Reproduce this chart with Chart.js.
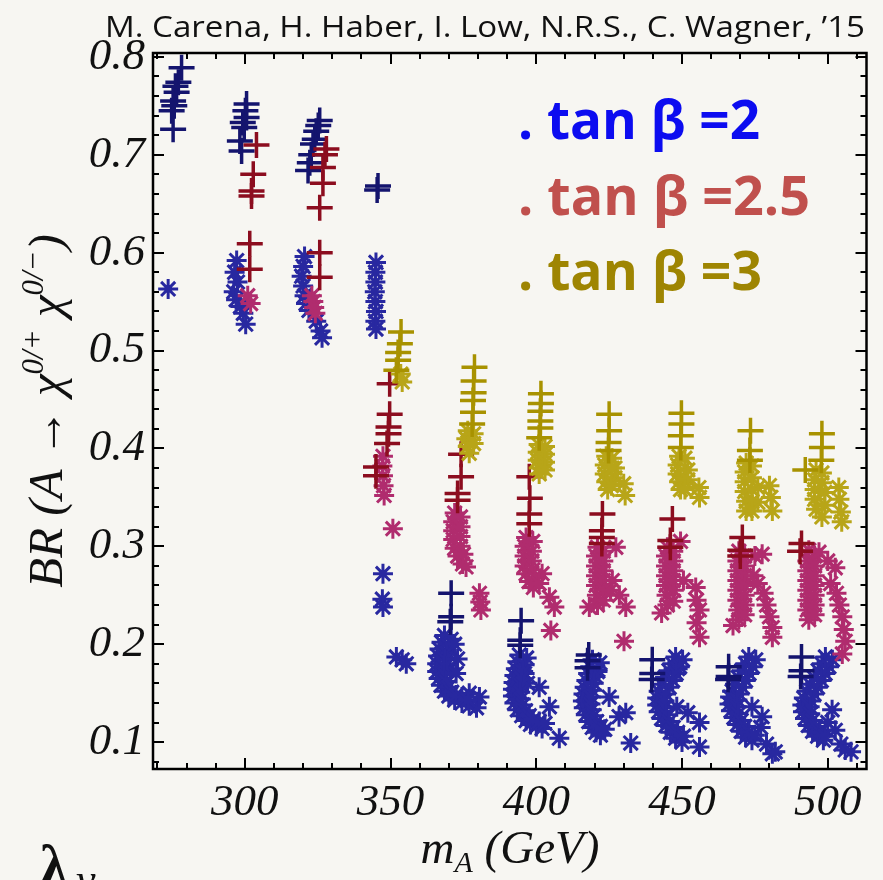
<!DOCTYPE html>
<html lang="en">
<head>
<meta charset="UTF-8">
<title>BR(A → χχ) vs m_A</title>
<style>
  body { margin: 0; background: #f7f6f2; }
  #wrap { width: 883px; height: 880px; }
</style>
<script src="https://cdn.jsdelivr.net/npm/chart.js@4.4.0/dist/chart.umd.min.js"></script>
</head>
<body>
<div id="wrap"><canvas id="brChart" width="883" height="880"></canvas></div>
<script>
// axis ticks
const xTicks = [300, 350, 400, 450, 500];
const yTicks = [0.1, 0.2, 0.3, 0.4, 0.5, 0.6, 0.7, 0.8];

// legend entries, one per tan beta
const seriesNames = ['tan β =2', 'tan β =2.5', 'tan β =3'];

// [m_A (GeV), BR] scan points, "+" and "*" markers per tan beta
const blueCross = [
  [278.3,0.789],[277.2,0.774],[276.6,0.764],[276.2,0.770],[275.4,0.755],[275.8,0.750],[274.9,0.745],[275.4,0.726],
  [300.6,0.752],[300.2,0.745],[300.6,0.738],[299.3,0.733],[299.8,0.728],[298.3,0.714],[298.9,0.704],
  [325.7,0.735],[325.2,0.730],[324.5,0.724],[324.0,0.716],[323.4,0.711],[322.8,0.700],[322.3,0.692],[321.7,0.684],
  [345.7,0.668],[345.4,0.664],
  [370.8,0.252],[370.8,0.228],[370.5,0.223],
  [394.8,0.224],[394.5,0.204],[394.5,0.199],
  [418.0,0.189],[417.6,0.183],[417.6,0.176],
  [439.8,0.184],[439.8,0.170],[439.6,0.164],
  [466.0,0.177],[466.0,0.167],[465.8,0.164],
  [491.0,0.187],[491.0,0.173],[490.7,0.167]
];
const blueStar = [
  [273.7,0.563],
  [297.2,0.592],[296.5,0.580],[297.5,0.570],[296.2,0.560],[297.0,0.552],[298.5,0.545],[299.5,0.538],[300.3,0.527],
  [320.5,0.596],[320.0,0.586],[319.5,0.576],[320.0,0.566],[320.5,0.556],[321.0,0.548],[322.0,0.541],[324.5,0.530],[326.0,0.520],[326.5,0.513],
  [345.0,0.590],[344.8,0.580],[344.8,0.570],[344.6,0.560],[344.8,0.550],[345.0,0.540],[344.8,0.530],[345.0,0.522],
  [347.4,0.272],[347.2,0.246],[347.4,0.238],[352.0,0.187],[354.0,0.184],[355.4,0.180],
  // m_A = 375
  [368.5,0.209],[367.5,0.202],[366.8,0.195],[366.3,0.188],[366.0,0.180],[366.0,0.172],[366.5,0.165],[367.3,0.158],[368.5,0.152],
  [370.0,0.147],[372.0,0.143],[374.5,0.140],[377.0,0.137],[379.5,0.135],[370.0,0.190],[370.5,0.175],[377.0,0.150],[380.5,0.146],
  [370.8,0.205],[370.0,0.198],[369.3,0.191],[368.8,0.184],[368.5,0.177],[368.5,0.169],[369.0,0.162],[369.8,0.156],[371.0,0.151],
  [372.5,0.148],[374.5,0.146],[376.5,0.143],[372.0,0.200],[373.0,0.185],[372.5,0.170],
  // m_A = 400
  [394.2,0.189],[393.5,0.182],[393.0,0.175],[392.5,0.168],[392.2,0.161],[392.0,0.154],[392.0,0.147],[392.5,0.140],[393.5,0.133],
  [395.0,0.127],[396.5,0.122],[398.0,0.118],[400.0,0.116],[402.0,0.114],[396.0,0.170],[397.0,0.160],[401.0,0.156],[404.5,0.136],[407.9,0.104],
  [396.7,0.186],[396.0,0.179],[395.5,0.172],[395.0,0.165],[394.7,0.158],[394.5,0.151],[394.7,0.144],[395.3,0.138],[396.3,0.132],
  [397.6,0.127],[399.0,0.123],[401.0,0.121],[403.0,0.119],
  // m_A = 425
  [419.3,0.184],[418.5,0.177],[417.8,0.170],[417.2,0.163],[416.6,0.156],[416.2,0.149],[416.0,0.142],[416.3,0.135],[417.0,0.128],
  [418.0,0.121],[419.2,0.115],[420.5,0.110],[422.0,0.107],[421.0,0.172],[425.0,0.146],[428.4,0.126],[430.7,0.130],[432.4,0.099],
  [421.8,0.181],[421.0,0.174],[420.3,0.167],[419.7,0.160],[419.1,0.153],[418.7,0.146],[418.6,0.139],[419.0,0.133],[419.7,0.127],
  [420.7,0.121],[422.0,0.116],[423.5,0.113],
  // m_A = 450
  [447.8,0.187],[446.8,0.180],[445.5,0.173],[444.2,0.166],[443.0,0.159],[442.0,0.152],[441.5,0.145],[441.5,0.138],[442.0,0.131],
  [443.0,0.124],[444.5,0.117],[446.0,0.110],[447.8,0.104],[450.0,0.100],[448.5,0.175],[448.2,0.136],[452.0,0.130],[456.0,0.120],[456.0,0.095],
  [450.2,0.184],[449.2,0.177],[448.0,0.170],[446.8,0.163],[445.6,0.156],[444.5,0.149],[444.0,0.142],[444.0,0.135],[444.6,0.128],
  [445.6,0.121],[447.0,0.115],[448.5,0.110],[450.5,0.106],
  // m_A = 475
  [472.9,0.187],[471.8,0.180],[470.5,0.173],[469.3,0.166],[468.2,0.159],[467.2,0.152],[466.5,0.146],[466.3,0.139],[466.8,0.132],
  [467.8,0.125],[469.0,0.118],[470.3,0.111],[471.8,0.105],[474.0,0.102],[474.0,0.136],[477.5,0.126],[477.0,0.115],[479.0,0.098],[481.0,0.088],[482.0,0.090],
  [475.3,0.184],[474.2,0.177],[473.0,0.170],[471.8,0.163],[470.7,0.156],[469.7,0.149],[469.0,0.143],[468.8,0.136],[469.3,0.129],
  [470.3,0.122],[471.5,0.116],[473.0,0.110],[475.0,0.107],
  // m_A = 500
  [499.2,0.187],[498.0,0.180],[496.7,0.173],[495.3,0.166],[494.0,0.159],[492.8,0.152],[491.8,0.145],[491.3,0.138],[491.5,0.131],
  [492.2,0.124],[493.3,0.117],[494.8,0.111],[496.5,0.106],[498.5,0.102],[501.5,0.133],[502.6,0.112],[500.0,0.120],[504.5,0.098],[506.0,0.092],[508.0,0.090],
  [501.6,0.184],[500.4,0.177],[499.1,0.170],[497.8,0.163],[496.5,0.156],[495.3,0.149],[494.3,0.142],[493.8,0.136],[494.0,0.129],
  [494.7,0.122],[495.8,0.116],[497.3,0.110],[499.0,0.106]
];
const redCross = [
  [304.0,0.710],[302.9,0.680],[302.3,0.663],[302.3,0.658],[301.7,0.609],[301.7,0.583],
  [328.0,0.706],[327.5,0.700],[326.8,0.687],[326.8,0.671],[325.7,0.646],[325.7,0.600],[325.7,0.575],
  [349.7,0.466],[349.7,0.435],[349.3,0.422],[349.3,0.415],[348.8,0.405],[345.0,0.381],[345.0,0.372],
  [374.2,0.394],[374.2,0.371],[373.0,0.354],[373.0,0.347],
  [397.6,0.371],[397.8,0.349],[397.6,0.333],[397.6,0.323],
  [422.7,0.333],[422.5,0.316],[422.5,0.309],[422.5,0.303],
  [446.7,0.328],[446.0,0.306],[446.0,0.299],
  [470.7,0.309],[470.0,0.296],[470.0,0.290],
  [491.0,0.303],[490.5,0.295]
];
const redStar = [
  [302.0,0.548],[301.0,0.556],
  [323.0,0.556],[323.5,0.550],[323.8,0.544],[324.2,0.538],
  [347.4,0.392],[347.2,0.382],[347.4,0.372],[347.6,0.362],[347.8,0.352],[350.8,0.318],
  [372.0,0.334],[371.5,0.325],[371.5,0.316],[371.5,0.307],[372.0,0.298],[373.0,0.290],[374.7,0.282],[375.9,0.279],
  [374.0,0.330],[374.0,0.320],[374.0,0.310],[374.0,0.300],[375.0,0.292],
  [380.5,0.252],[380.8,0.243],[381.0,0.235],
  [396.5,0.309],[396.0,0.300],[396.0,0.290],[396.0,0.280],[396.5,0.272],[397.5,0.264],[399.0,0.258],[402.0,0.272],
  [398.8,0.305],[398.5,0.295],[398.5,0.285],[398.8,0.276],[399.5,0.268],[401.0,0.262],
  [404.5,0.248],[406.2,0.238],[405.0,0.214],
  [421.0,0.299],[420.5,0.290],[420.5,0.280],[420.5,0.270],[420.5,0.260],[420.8,0.250],[421.0,0.240],[418.2,0.238],
  [423.0,0.295],[423.0,0.285],[423.0,0.275],[423.0,0.265],[423.2,0.255],
  [423.0,0.245],[425.5,0.255],[427.3,0.299],[426.1,0.265],[428.5,0.250],[430.7,0.238],[430.1,0.203],
  [445.0,0.299],[444.5,0.290],[444.5,0.280],[444.5,0.270],[444.5,0.260],[444.7,0.250],[445.0,0.240],[443.0,0.232],
  [447.0,0.295],[447.0,0.285],[447.0,0.275],[447.0,0.265],[447.2,0.255],
  [447.0,0.244],[450.5,0.265],[449.5,0.305],[454.7,0.258],[455.0,0.245],[456.0,0.235],[455.0,0.222],[456.0,0.207],
  [469.5,0.295],[469.0,0.285],[469.0,0.275],[469.0,0.265],[469.0,0.255],[469.0,0.245],[469.3,0.235],[469.5,0.225],[467.5,0.219],
  [471.5,0.290],[471.5,0.280],[471.5,0.270],[471.5,0.260],[471.5,0.250],[471.5,0.240],[471.5,0.230],
  [475.0,0.290],[477.5,0.292],[474.5,0.270],[476.0,0.262],[478.0,0.252],[479.0,0.240],[480.0,0.228],[481.0,0.217],[481.0,0.207],
  [493.5,0.296],[493.0,0.285],[493.0,0.275],[493.0,0.265],[493.0,0.255],[493.0,0.245],[493.0,0.235],[493.5,0.225],
  [495.5,0.290],[495.5,0.280],[495.5,0.270],[495.5,0.260],[495.5,0.250],[495.5,0.240],[495.5,0.230],
  [497.0,0.294],[500.0,0.285],[502.6,0.278],[501.0,0.262],[503.0,0.252],[504.0,0.240],[505.0,0.228],[505.5,0.215],[506.0,0.203],[505.0,0.190]
];
const goldCross = [
  [353.6,0.519],[353.2,0.507],[352.6,0.498],[352.6,0.490],[352.0,0.480],
  [378.8,0.483],[378.5,0.469],[378.5,0.457],[378.3,0.449],[378.3,0.437],[378.0,0.425],
  [401.6,0.456],[401.6,0.446],[401.4,0.438],[401.4,0.428],[401.4,0.421],[401.0,0.411],
  [425.0,0.435],[425.0,0.418],[424.8,0.406],[424.8,0.398],
  [449.8,0.436],[449.8,0.425],[449.6,0.413],[449.6,0.401],
  [473.5,0.418],[473.3,0.398],[473.3,0.388],
  [498.0,0.415],[498.0,0.401],[497.8,0.388],[492.3,0.378]
];
const goldStar = [
  [353.5,0.476],[354.0,0.468],
  [376.5,0.418],[376.0,0.410],[376.5,0.402],[377.0,0.395],[378.5,0.415],[378.5,0.405],
  [400.8,0.404],[400.5,0.396],[400.5,0.388],[400.8,0.380],[401.0,0.374],
  [403.0,0.402],[403.0,0.394],[403.0,0.386],[403.0,0.378],
  [424.0,0.392],[423.5,0.383],[423.5,0.374],[424.0,0.366],[424.5,0.358],[427.0,0.380],[427.0,0.370],[430.0,0.364],[430.5,0.352],
  [426.0,0.390],[426.0,0.380],[425.8,0.362],
  [449.0,0.392],[448.5,0.383],[448.5,0.374],[449.0,0.366],[449.5,0.358],[452.0,0.378],[452.0,0.368],[455.8,0.360],[456.0,0.350],
  [451.0,0.390],[451.0,0.358],
  [472.0,0.385],[471.5,0.376],[471.5,0.366],[471.5,0.356],[472.0,0.346],[472.0,0.336],[476.0,0.360],[476.0,0.345],
  [474.0,0.382],[474.0,0.370],[474.0,0.358],[474.0,0.346],[474.0,0.336],
  [480.0,0.362],[480.5,0.350],[481.0,0.336],
  [496.0,0.378],[495.5,0.368],[495.5,0.358],[495.5,0.348],[496.0,0.338],[499.0,0.355],[499.0,0.342],
  [498.0,0.375],[498.0,0.365],[498.0,0.330],
  [503.8,0.360],[504.0,0.348],[504.5,0.335],[504.8,0.325]
];

const toXY = pts => pts.map(p => ({ x: p[0], y: p[1] }));

function markerSet(label, pts, style, color, order) {
  const cross = style === 'cross';
  return {
    label: label,
    data: toXY(pts),
    pointStyle: style,
    pointRadius: cross ? 13 : 10,
    borderWidth: cross ? 3.5 : 3,
    borderColor: color,
    backgroundColor: color,
    order: order
  };
}

const serif = "'Liberation Serif', 'DejaVu Serif', serif";

// draw a row of text pieces (font + vertical shift each), centred on cx
function drawRuns(ctx, runs, cx, baseY) {
  let total = 0;
  runs.forEach(r => { ctx.font = r.font; total += ctx.measureText(r.t).width; });
  let x = cx - total / 2;
  runs.forEach(r => {
    ctx.font = r.font;
    ctx.fillText(r.t, x, baseY + (r.dy || 0));
    x += ctx.measureText(r.t).width;
  });
}

// squeeze a string horizontally so it spans the given width
function fitText(ctx, text, x, y, width) {
  const w = ctx.measureText(text).width;
  ctx.save();
  ctx.translate(x, y);
  ctx.scale(width / w, 1);
  ctx.fillText(text, 0, 0);
  ctx.restore();
}

const framePlugin = {
  id: 'frame',
  beforeDraw(chart) {
    const ctx = chart.ctx;
    ctx.save();
    ctx.fillStyle = '#f7f6f2';
    ctx.fillRect(0, 0, chart.width, chart.height);
    ctx.restore();
  },
  afterDraw(chart) {
    const { ctx, chartArea: a, scales: { x, y } } = chart;
    ctx.save();
    ctx.strokeStyle = '#000';
    ctx.lineWidth = 2;
    ctx.beginPath();
    // inward ticks on all four sides, long ones at the labelled values
    for (let m = 270; m <= 510; m += 10) {
      const px = Math.round(x.getPixelForValue(m));
      const len = m % 50 === 0 ? 11 : 6;
      ctx.moveTo(px, a.bottom); ctx.lineTo(px, a.bottom - len);
      ctx.moveTo(px, a.top); ctx.lineTo(px, a.top + len);
    }
    for (let k = 4; k <= 40; k++) {
      const py = Math.round(y.getPixelForValue(k * 0.02));
      const len = k % 5 === 0 ? 11 : 6;
      ctx.moveTo(a.left, py); ctx.lineTo(a.left + len, py);
      ctx.moveTo(a.right, py); ctx.lineTo(a.right - len, py);
    }
    ctx.stroke();
    ctx.lineWidth = 2.5;
    ctx.strokeRect(a.left, a.top, a.right - a.left, a.bottom - a.top);

    ctx.fillStyle = '#111';
    ctx.textBaseline = 'alphabetic';
    ctx.textAlign = 'left';

    // credit line
    ctx.font = "29px 'Open Sans', sans-serif";
    fitText(ctx, 'M. Carena, H. Haber, I. Low, N.R.S., C. Wagner, \u201915', 105, 37, 760);

    // axis titles
    drawRuns(ctx, [
      { t: 'm', font: 'italic 47px ' + serif },
      { t: 'A', font: 'italic 30px ' + serif, dy: 9 },
      { t: ' (GeV)', font: 'italic 47px ' + serif }
    ], 510, 863);

    ctx.save();
    ctx.translate(62, 411);
    ctx.rotate(-Math.PI / 2);
    drawRuns(ctx, [
      { t: 'BR (A \u2192 \u03C7', font: 'italic 49px ' + serif },
      { t: '0/+', font: 'italic 31px ' + serif, dy: -19 },
      { t: ' \u03C7', font: 'italic 49px ' + serif },
      { t: '0/\u2212', font: 'italic 31px ' + serif, dy: -19 },
      { t: ')', font: 'italic 49px ' + serif }
    ], 0, 0);
    ctx.restore();

    ctx.font = 'bold 56px ' + serif;
    ctx.fillText('\u03BB', 40, 884);
    ctx.font = 'italic 44px ' + serif;
    ctx.fillText('v', 76, 894);

    // legend
    const legendColors = ['#0c0cf0', '#c0504d', '#9e8502'];
    const legendWidths = [242, 292, 244];
    const legendBase = [139, 215, 290];
    ctx.font = "bold 54px 'Open Sans', sans-serif";
    seriesNames.forEach((name, i) => {
      ctx.fillStyle = legendColors[i];
      fitText(ctx, '. ' + name, 518, legendBase[i], legendWidths[i]);
    });
    ctx.restore();
  }
};

new Chart(document.getElementById('brChart'), {
  type: 'scatter',
  data: {
    datasets: [
      markerSet(seriesNames[2], goldCross, 'cross', '#a89200', 1),
      markerSet(seriesNames[2], goldStar, 'star', '#b8a518', 1),
      markerSet(seriesNames[1], redCross, 'cross', '#8c0d1f', 2),
      markerSet(seriesNames[1], redStar, 'star', '#b02c6e', 2),
      markerSet(seriesNames[0], blueCross, 'cross', '#14146e', 3),
      markerSet(seriesNames[0], blueStar, 'star', '#2828a0', 3)
    ]
  },
  options: {
    responsive: false,
    animation: false,
    devicePixelRatio: 1,
    layout: { padding: { top: 53, right: 15, left: 0, bottom: 0 } },
    plugins: { legend: { display: false }, tooltip: { enabled: false } },
    scales: {
      x: {
        type: 'linear',
        min: 268.5,
        max: 513.3,
        afterBuildTicks: s => { s.ticks = xTicks.map(v => ({ value: v })); },
        afterFit: s => { s.height = 111; },
        grid: { display: false, drawTicks: false },
        border: { display: false },
        ticks: {
          padding: 7,
          color: '#111',
          font: { family: serif, style: 'italic', size: 45 },
          callback: v => String(v)
        }
      },
      y: {
        type: 'linear',
        min: 0.0725,
        max: 0.804,
        afterBuildTicks: s => { s.ticks = yTicks.map(v => ({ value: v })); },
        afterFit: s => { s.width = 153; },
        grid: { display: false, drawTicks: false },
        border: { display: false },
        ticks: {
          padding: 8,
          color: '#111',
          font: { family: serif, style: 'italic', size: 45 },
          callback: v => v.toFixed(1)
        }
      }
    }
  },
  plugins: [framePlugin]
});
</script>
</body>
</html>
